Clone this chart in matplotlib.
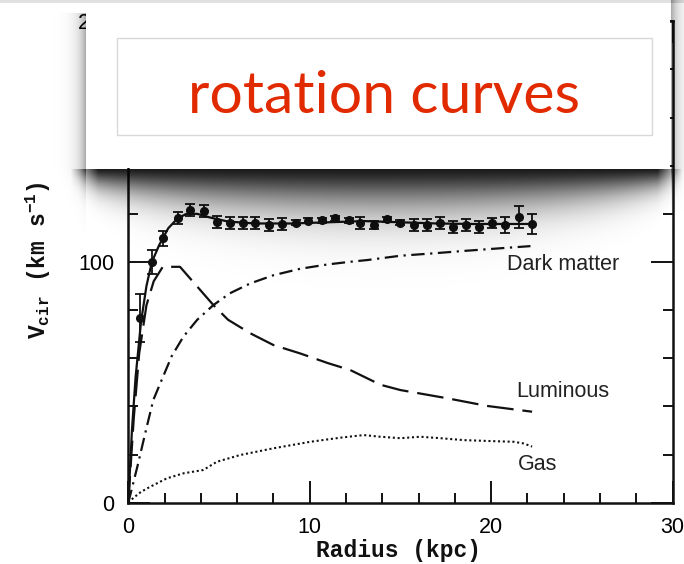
import numpy as np
import matplotlib
matplotlib.use("Agg")
import matplotlib.pyplot as plt
from matplotlib.patches import Rectangle

# ---------------- data ----------------
radius_obs = [0.65, 1.29, 1.93, 2.73, 3.41, 4.18, 4.88, 5.61, 6.31, 6.99, 7.73, 8.47,
              9.25, 9.93, 10.67, 11.41, 12.14, 12.79, 13.52, 14.26, 14.99, 15.73,
              16.47, 17.16, 17.90, 18.64, 19.32, 20.06, 20.79, 21.52, 22.26]
vel_obs = [76.6, 100.1, 109.8, 118.4, 121.6, 121.3, 116.7, 116.1, 116.1, 116.1, 115.4, 115.7,
           116.3, 117.2, 117.4, 118.2, 117.4, 116.1, 115.4, 117.7, 116.3, 115.4,
           115.4, 116.1, 114.7, 115.4, 114.7, 116.1, 115.4, 118.8, 115.8]
err_obs = [10.0, 5.0, 3.0, 2.5, 2.5, 2.5, 2.5, 2.5, 2.5, 2.5, 2.5, 2.5,
           1.0, 1.0, 1.0, 1.0, 1.0, 2.5, 1.5, 1.0, 1.0, 2.5,
           2.5, 2.5, 2.5, 2.5, 2.5, 2.0, 3.3, 4.5, 4.3]

r_total = [0, 0.2, 0.4, 0.7, 1.0, 1.3, 1.7, 2.2, 2.7, 3.2, 3.8, 4.5, 5.5, 7, 9, 11, 13, 15, 17, 19, 21, 22.3]
v_total = [0, 30, 52, 75, 90, 100, 107, 114, 118, 120, 120, 118.5, 116.8, 116, 116, 116.5, 117, 116.5, 116, 115.8, 115.8, 115.8]

r_lum = [0, 0.3, 0.6, 1.0, 1.4, 1.9, 2.85, 4.69, 5.5, 6.72, 8.0, 9.48, 11.0, 12.24, 13.9, 15.0, 17.57, 19.78, 22.26]
v_lum = [0, 35, 62, 82, 92, 98, 98, 82.1, 76, 70.4, 65.5, 62, 58, 55.1, 49, 46.8, 43.4, 40.2, 37.8]

r_dark = [0, 0.5, 1.0, 1.38, 1.84, 2.4, 3.04, 3.8, 4.69, 5.6, 6.72, 8.0, 9.48, 11.0, 12.24, 13.16, 15.0, 16.83, 18.5, 20.5, 22.17]
v_dark = [0, 15, 31, 42.7, 51, 61, 69, 76, 82.1, 87, 91.1, 94.5, 97.2, 99, 100.1, 100.8, 102.6, 103.6, 104.6, 105.7, 106.6]

r_gas = [0, 0.28, 0.7, 1.2, 2.12, 3.04, 4.14, 4.88, 6.16, 8.0, 10.03, 11.68, 12.97, 13.89, 15.0, 16.1, 17.2, 18.49, 20.0, 21.25, 21.8, 22.26]
v_gas = [0, 2, 4.5, 6.6, 10.1, 12.2, 13.6, 17.0, 19.8, 22.6, 25.3, 27.0, 28.1, 27.4, 26.8, 27.4, 26.8, 26.0, 25.6, 25.3, 24.6, 23.3]

component_labels = ["Dark matter", "Luminous", "Gas"]
label_pos_r = [20.9, 21.4, 21.5]
label_pos_v = [98.8, 46.1, 15.7]

x_major = [0, 10, 20, 30]
y_major = [0, 100, 200]
title_text = "rotation curves"

# ---------------- figure ----------------
W, H = 684, 564
plt.rcParams["mathtext.fontset"] = "custom"
plt.rcParams["mathtext.rm"] = "Liberation Mono:bold"
plt.rcParams["mathtext.it"] = "Liberation Mono:bold"
plt.rcParams["mathtext.bf"] = "Liberation Mono:bold"

fig = plt.figure(figsize=(W / 100, H / 100), dpi=100)
fig.patch.set_facecolor("white")
ax = fig.add_axes([128.3 / W, 1 - 502.7 / H, (672.5 - 128.3) / W, (502.7 - 21.3) / H])

ink = "#111111"
ax.plot(r_total, v_total, color=ink, lw=1.6)
ax.plot(r_lum, v_lum, color=ink, lw=1.6, linestyle=(0, (12, 4)))
ax.plot(r_dark, v_dark, color=ink, lw=1.6, linestyle=(0, (6, 2.5, 1, 2.5)))
ax.plot(r_gas, v_gas, color=ink, lw=1.5, linestyle=(0, (1, 1.3)))
ax.errorbar(radius_obs, vel_obs, yerr=err_obs, fmt="o", color=ink, ms=5.5,
            capsize=3.5, elinewidth=1.3, capthick=1.3)

for txt, rx, vy in zip(component_labels, label_pos_r, label_pos_v):
    ax.text(rx, vy, txt, ha="left", va="center", fontsize=15.5,
            family="Liberation Sans", color="#222222")

ax.set_xlim(0, 30)
ax.set_ylim(0, 200)
ax.set_xticks(x_major)
ax.set_xticks(np.arange(0, 31, 2), minor=True)
ax.set_yticks(y_major)
ax.set_yticks(np.arange(0, 201, 20), minor=True)
ax.tick_params(which="both", direction="in", top=True, right=True, width=1.4, color=ink)
ax.tick_params(which="major", length=15.5, labelsize=15.5, pad=10)
ax.tick_params(which="minor", length=7)
for lab in ax.get_xticklabels() + ax.get_yticklabels():
    lab.set_family("Liberation Sans")
for sp in ax.spines.values():
    sp.set_linewidth(1.8)
    sp.set_color(ink)

fig.text(399 / W, 1 - 550 / H, "Radius (kpc)", ha="center", va="center",
         fontsize=16.5, family="Liberation Mono", weight="bold", color=ink)
fig.text(38 / W, 1 - 260 / H, r"V$_{\mathrm{cir}}$ (km s$^{-1}$)", ha="center", va="center",
         rotation=90, fontsize=16.5, family="Liberation Mono", weight="bold", color=ink)

# ---------------- slide overlay: soft drop shadow + box ----------------
yy, xx = np.mgrid[0:H, 0:W].astype(float)
u = (xx - 378) / 300
edge = np.clip((xx - 70) / 28, 0, 1) * np.clip((682 - xx) / 25, 0, 1)
depth = 12 + 27 * np.clip(1 - u ** 2, 0, 1) ** 0.7
dy = yy - 168
alpha = np.where(dy > 0, 0.9 * edge * np.exp(-(np.clip(dy, 0, None) / depth) ** 1.5), 0.0)
# side and top shading of the box
vfade = np.where(yy <= 168, 1.0, np.exp(-(yy - 168) / 16))
side_l = np.where((yy > 12) & (xx < 86), 0.38 * np.exp(-(86 - xx) / 7) * vfade, 0.0)
side_r = np.where((xx > 670), 0.38 * np.exp(-(xx - 670) / 7) * vfade, 0.0)
top = np.where(yy < 3, 0.12, 0.0)
alpha = np.clip(alpha + side_l + side_r + top, 0, 1)
img = np.zeros((H, W, 4))
img[..., 3] = alpha
fig.figimage(img, xo=0, yo=0, origin="upper", zorder=5)

fig.add_artist(Rectangle((86 / W, 1 - 168 / H), 584 / W, 165 / H, transform=fig.transFigure,
                         facecolor="white", edgecolor="none", zorder=6))
fig.add_artist(Rectangle((117 / W, 1 - 135 / H), 535 / W, 97 / H, transform=fig.transFigure,
                         facecolor="white", edgecolor="#d8d8d8", lw=1, zorder=7))
fig.text(384.5 / W, 1 - 113 / H, title_text, ha="center", va="baseline", fontsize=42.5,
         family="Lato", color="#e12a00", zorder=8)

fig.savefig("out.png", dpi=100)
